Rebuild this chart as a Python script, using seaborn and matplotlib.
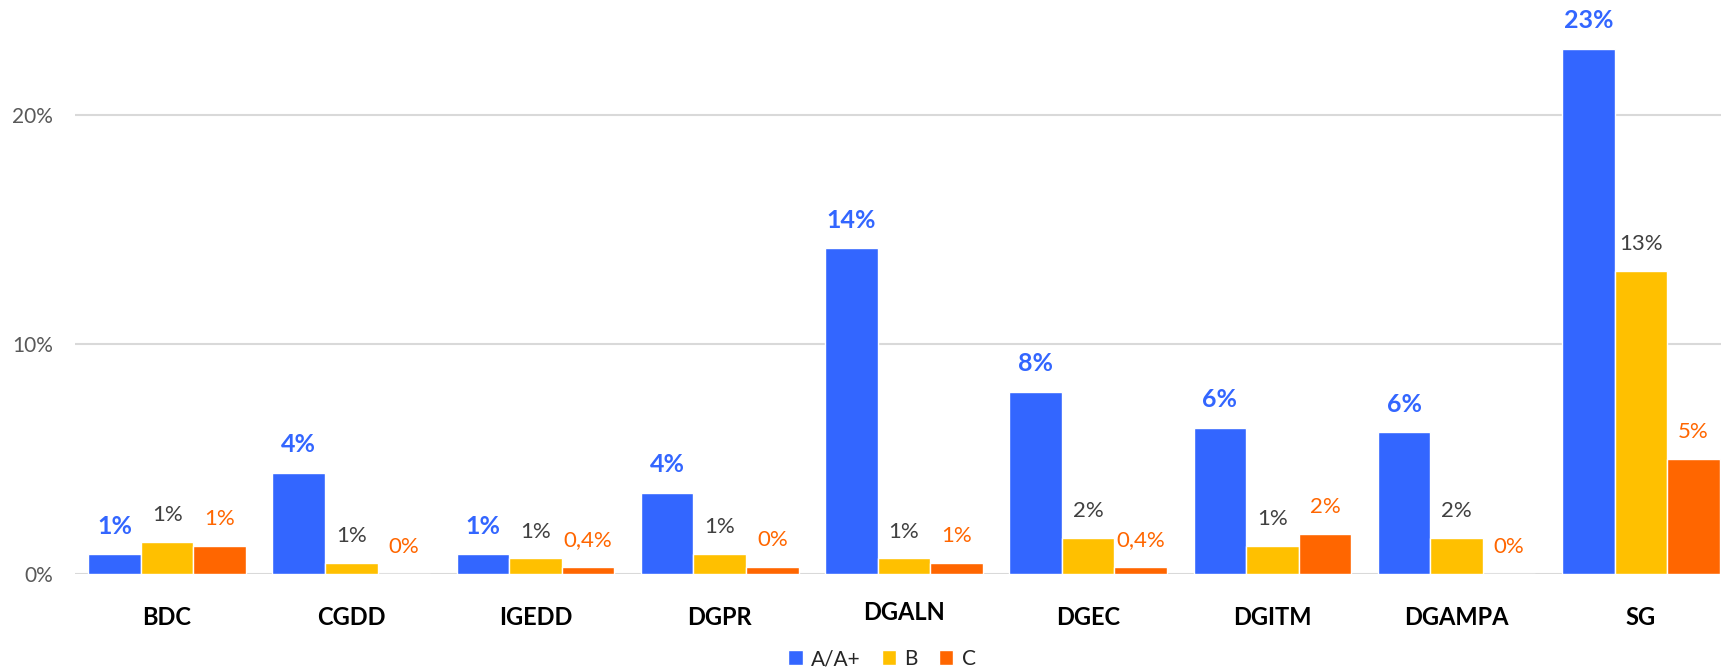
import pandas as pd
import seaborn as sns
import matplotlib.pyplot as plt
from matplotlib.ticker import FuncFormatter

# data (percent)
categories = ["BDC", "CGDD", "IGEDD", "DGPR", "DGALN", "DGEC", "DGITM", "DGAMPA", "SG"]
grades = ["A/A+", "B", "C"]
val_a = [0.85, 4.40, 0.85, 3.52, 14.2, 7.94, 6.36, 6.17, 22.9]
val_b = [1.38, 0.48, 0.67, 0.86, 0.67, 1.56, 1.21, 1.56, 13.2]
val_c = [1.21, 0.0, 0.31, 0.31, 0.48, 0.31, 1.73, 0.0, 5.02]
lab_a = ["1%", "4%", "1%", "4%", "14%", "8%", "6%", "6%", "23%"]
lab_b = ["1%", "1%", "1%", "1%", "1%", "2%", "1%", "2%", "13%"]
lab_c = ["1%", "0%", "0,4%", "0%", "1%", "0,4%", "2%", "0%", "5%"]

colors = ["#3366FF", "#FFC000", "#FF6600"]

df = pd.DataFrame({
    "cat": categories * 3,
    "grade": [g for g in grades for _ in categories],
    "val": val_a + val_b + val_c,
})

sns.set_style("white")
plt.rcParams["font.family"] = ["Lato", "DejaVu Sans"]

fig = plt.figure(figsize=(17.21, 6.69), dpi=100)
ax = fig.add_axes([75 / 1721, 0.1425, 1 - 75 / 1721, 0.8565])

sns.barplot(data=df, x="cat", y="val", hue="grade", palette=colors,
            width=0.856, gap=0, saturation=1, ax=ax, legend=True)

ax.set_ylim(0, 25)
ax.set_xlim(-0.5, 8.435)
ax.set_yticks([0, 10, 20])
ax.yaxis.set_major_formatter(FuncFormatter(lambda v, p: f"{v:.0f}%"))
ax.grid(axis="y", color="#D9D9D9", linewidth=1.5)
ax.set_axisbelow(True)
for s in ax.spines.values():
    s.set_visible(False)
ax.set_xlabel("")
ax.set_ylabel("")
ax.tick_params(axis="y", length=0, pad=16, labelsize=15, labelcolor="#595959")
ax.set_xticks(range(len(categories)), categories)
ax.tick_params(axis="x", length=0, pad=23, labelsize=17, labelcolor="black")
for t in ax.get_xticklabels():
    t.set_fontweight("bold")
ax.xaxis.get_major_ticks()[4].set_pad(20)

ax.bar_label(ax.containers[0], labels=lab_a, padding=12, color="#3366FF",
             fontsize=18, fontweight="bold")
ax.bar_label(ax.containers[1], labels=lab_b, padding=12, color="#404040",
             fontsize=16)
ax.bar_label(ax.containers[2], labels=lab_c, padding=12, color="#FF6600",
             fontsize=16)

handles, labels = ax.get_legend_handles_labels()
ax.get_legend().remove()
fig.legend(handles, labels, loc="center", bbox_to_anchor=(882 / 1721, 1 - 659 / 669),
           ncol=3, frameon=False, fontsize=15, handlelength=0.7, handleheight=0.7,
           handletextpad=0.4, columnspacing=1.0)

fig.savefig("out.png", dpi=100)
